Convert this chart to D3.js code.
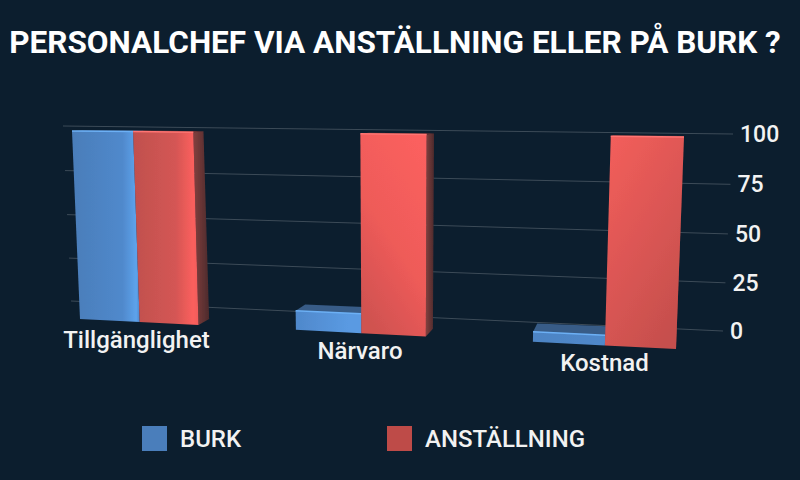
<!DOCTYPE html>
<html>
<head>
<meta charset="utf-8">
<script src="https://cdn.jsdelivr.net/npm/d3@7"></script>
<style>
  html, body { margin: 0; background: #0c1e2e; }
  svg { display: block; font-family: Roboto, sans-serif; }
  .label { fill: #f2f2f2; font-weight: 500; }
</style>
</head>
<body>
<script>
// Chart data
const title = "PERSONALCHEF VIA ANSTÄLLNING ELLER PÅ BURK ?";
const categories = ["Tillgänglighet", "Närvaro", "Kostnad"];
const seriesNames = ["BURK", "ANSTÄLLNING"];
const burk = [100, 10, 5];
const anstallning = [100, 100, 100];
const yTicks = [0, 25, 50, 75, 100];

const width = 800;
const height = 480;

// Map the unit square onto a quad: bottom-left, bottom-right, top-right, top-left
function perspective([p0, p1, p2, p3]) {
  const dx1 = p1[0] - p2[0], dx2 = p3[0] - p2[0], sx = p0[0] - p1[0] + p2[0] - p3[0];
  const dy1 = p1[1] - p2[1], dy2 = p3[1] - p2[1], sy = p0[1] - p1[1] + p2[1] - p3[1];
  const den = dx1 * dy2 - dx2 * dy1;
  const g = (sx * dy2 - dx2 * sy) / den;
  const h = (dx1 * sy - sx * dy1) / den;
  const a = p1[0] - p0[0] + g * p1[0], b = p3[0] - p0[0] + h * p3[0];
  const d = p1[1] - p0[1] + g * p1[1], e = p3[1] - p0[1] + h * p3[1];
  return (u, v) => {
    const w = g * u + h * v + 1;
    return [(a * u + b * v + p0[0]) / w, (d * u + e * v + p0[1]) / w];
  };
}

// Planes of the tilted chart: grid wall, bar fronts, bar backs
const grid = perspective([[71, 301], [723, 331], [733, 134], [63, 126]]);
const front = perspective([[80, 319], [676, 349], [684, 137], [72, 131]]);
const back = perspective([[91, 314], [675, 339], [684, 136], [82, 130]]);

const x0 = d3.scaleBand().domain(d3.range(categories.length)).range([0, 1]).paddingInner(0.44);
const y = d3.scaleLinear().domain([0, 100]).range([0, 1]);
// Share of a group's width where the second bar starts
const split = 0.51;

const svg = d3.select("body").append("svg")
  .attr("width", width)
  .attr("height", height)
  .attr("viewBox", [0, 0, width, height]);

const defs = svg.append("defs");
defs.append("filter").attr("id", "soft")
  .append("feGaussianBlur").attr("stdDeviation", 0.6);

function gradient(id, x1, y1, x2, y2, stops) {
  const g = defs.append("linearGradient").attr("id", id)
    .attr("x1", x1).attr("y1", y1).attr("x2", x2).attr("y2", y2);
  stops.forEach(([o, c]) => g.append("stop").attr("offset", o).attr("stop-color", c));
}

// Front face shading per bar
gradient("face-0-0", 0, 0.5, 1, 0.5, [[0, "#4a7db9"], [0.75, "#5089cc"], [0.95, "#5da3ec"], [1, "#4f86c8"]]);
gradient("face-0-1", 0, 0.5, 1, 0.5, [[0, "#4f88cb"], [0.8, "#5a9ae2"], [1, "#5a9ae2"]]);
gradient("face-0-2", 0, 0.5, 1, 0.5, [[0, "#4d84c4"], [1, "#5088ca"]]);
gradient("face-1-0", 0, 0.5, 1, 0.5, [[0, "#c0504e"], [0.65, "#d45654"], [0.92, "#fb5f5d"], [1, "#ef5c5a"]]);
gradient("face-1-1", 0.8, 0, 0.3, 1, [[0, "#fb605e"], [0.55, "#ee5b59"], [1, "#d05250"]]);
gradient("face-1-2", 0.1, 0, 0.7, 1, [[0, "#f25e5b"], [1, "#c64f4d"]]);
gradient("side-0", 0, 0.5, 1, 0.5, [[0, "#2e5c92"], [1, "#264a75"]]);
gradient("side-1", 0, 0.5, 1, 0.5, [[0, "#83403e"], [1, "#4c2a2c"]]);

const poly = pts => d3.line()(pts) + "Z";

svg.append("text")
  .attr("x", width / 2 - 5)
  .attr("y", 53)
  .attr("text-anchor", "middle")
  .attr("fill", "#ffffff")
  .style("font-size", "31.5px")
  .style("font-weight", 700)
  .text(title);

// Grid lines and value labels
yTicks.forEach(t => {
  const a = grid(0, y(t));
  const b = grid(1, y(t));
  svg.append("path")
    .attr("d", d3.line()([a, b]))
    .attr("stroke", "#ffffff")
    .attr("stroke-opacity", 0.2)
    .attr("fill", "none");
  svg.append("text")
    .attr("class", "label")
    .attr("x", b[0] + 7)
    .attr("y", b[1] + 8)
    .style("font-size", "23px")
    .text(t);
});

// Bars, left to right
const topFill = ["#375b87", "#7e3634"];
const edgeFill = ["#6cb0f5", "#ff7573"];
const labelShift = [-2, 0, 1];
const barLayer = svg.append("g").attr("filter", "url(#soft)");
categories.forEach((cat, i) => {
  [burk, anstallning].forEach((series, s) => {
    const u0 = x0(i) + x0.bandwidth() * (s ? split : 0);
    const u1 = x0(i) + x0.bandwidth() * (s ? 1 : split);
    const v = y(series[i]);
    barLayer.append("path")
      .attr("fill", `url(#side-${s})`)
      .attr("d", poly([front(u1, 0), back(u1, 0), back(u1, v), front(u1, v)]));
    barLayer.append("path")
      .attr("fill", topFill[s])
      .attr("d", poly([front(u0, v), front(u1, v), back(u1, v), back(u0, v)]));
    barLayer.append("path")
      .attr("fill", `url(#face-${s}-${i})`)
      .attr("d", poly([front(u0, 0), front(u1, 0), front(u1, v), front(u0, v)]));
    // light catches the rounded top edge
    barLayer.append("path")
      .attr("d", d3.line()([front(u0, v), front(u1, v)]))
      .attr("stroke", edgeFill[s])
      .attr("stroke-width", 1.5)
      .attr("fill", "none");
  });

  const c = front(x0(i) + x0.bandwidth() / 2, 0);
  svg.append("text")
    .attr("class", "label")
    .attr("x", c[0] + labelShift[i])
    .attr("y", c[1] + 26)
    .attr("text-anchor", "middle")
    .style("font-size", "24px")
    .text(cat);
});

// Legend
const legendX = d3.scaleOrdinal().domain(seriesNames).range([142, 387]);
const legendFill = d3.scaleOrdinal().domain(seriesNames).range(["#4a7ebb", "#be4b48"]);
seriesNames.forEach(name => {
  svg.append("rect")
    .attr("x", legendX(name))
    .attr("y", 426)
    .attr("width", 25)
    .attr("height", 25)
    .attr("fill", legendFill(name));
  svg.append("text")
    .attr("class", "label")
    .attr("x", legendX(name) + 38)
    .attr("y", 447)
    .style("font-size", "24px")
    .text(name);
});
</script>
</body>
</html>
